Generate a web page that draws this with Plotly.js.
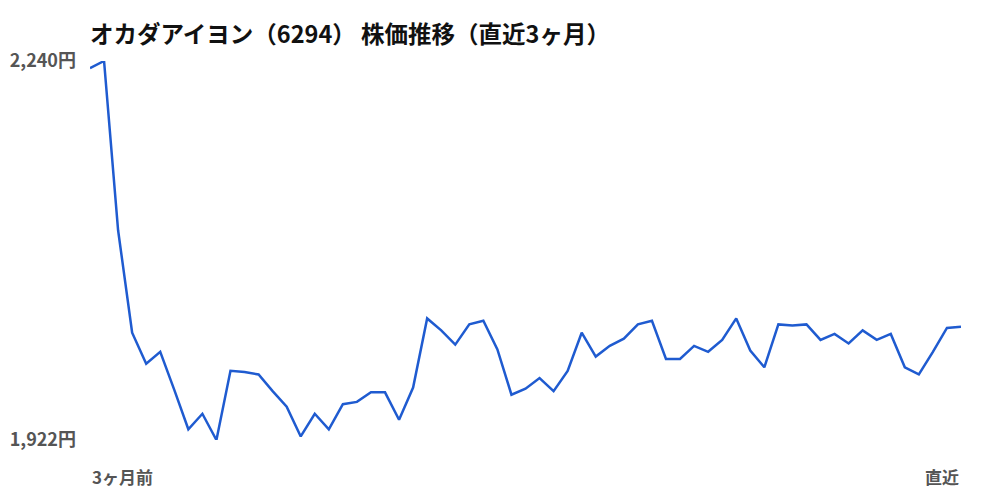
<!DOCTYPE html>
<html>
<head>
<meta charset="utf-8">
<script src="https://cdn.plot.ly/plotly-3.0.1.min.js"></script>
<style>html,body{margin:0;padding:0;background:#fff;}#chart{width:1000px;height:500px;}</style>
</head>
<body>
<div id="chart"></div>
<script>
const titleText = "オカダアイヨン（6294） 株価推移（直近3ヶ月）";
const prices = [2234, 2240, 2098, 2012, 1986, 1996, 1964, 1931, 1944, 1922,
  1980, 1979, 1977, 1963, 1950, 1925, 1944, 1931, 1952, 1954,
  1962, 1962, 1939, 1966, 2024, 2014, 2002, 2019, 2022, 1998,
  1960, 1965, 1974, 1963, 1980, 2012, 1992, 2001, 2007, 2019,
  2022, 1990, 1990, 2001, 1996, 2006, 2024, 1997, 1983, 2019,
  2018, 2019, 2006, 2011, 2003, 2014, 2006, 2011, 1983, 1977,
  1996, 2016, 2017];
const days = prices.map((_, i) => i);
const yTickVals = [1922, 2240];
const yTickText = ["1,922円", "2,240円"];
const xLabels = ["3ヶ月前", "直近"];

const font = '"Noto Sans CJK JP", "Noto Sans", sans-serif';

const trace = {
  x: days, y: prices, type: 'scatter', mode: 'lines',
  line: {color: '#1f5bd0', width: 2.5},
  hoverinfo: 'none'
};

const layout = {
  width: 1000, height: 500,
  margin: {l: 90, r: 39, t: 61, b: 60},
  paper_bgcolor: '#fff', plot_bgcolor: '#fff',
  showlegend: false,
  title: {text: '<b>' + titleText + '</b>', x: 90/1000, xanchor: 'left', y: 0.93, yanchor: 'middle',
    font: {family: font, size: 23.5, color: '#111'}},
  xaxis: {range: [0, days.length - 1], showgrid: false, zeroline: false, showline: false,
    showticklabels: false, fixedrange: true},
  yaxis: {range: [1922, 2240], showgrid: false, zeroline: false, showline: false,
    tickvals: yTickVals, ticktext: yTickText, ticks: '', ticklabelstandoff: 13,
    tickfont: {family: font, size: 18, color: '#555', weight: 'bold'}, fixedrange: true},
  annotations: [
    {x: days[0], y: 0, xref: 'x', yref: 'paper', text: '<b>' + xLabels[0] + '</b>', showarrow: false,
      xanchor: 'left', yanchor: 'top', yshift: -22, font: {family: font, size: 17, color: '#555'}},
    {x: days[days.length - 1], y: 0, xref: 'x', yref: 'paper', text: '<b>' + xLabels[1] + '</b>', showarrow: false,
      xanchor: 'right', yanchor: 'top', yshift: -22, font: {family: font, size: 17, color: '#555'}}
  ]
};

Plotly.newPlot('chart', [trace], layout, {displayModeBar: false, staticPlot: true});
</script>
</body>
</html>
